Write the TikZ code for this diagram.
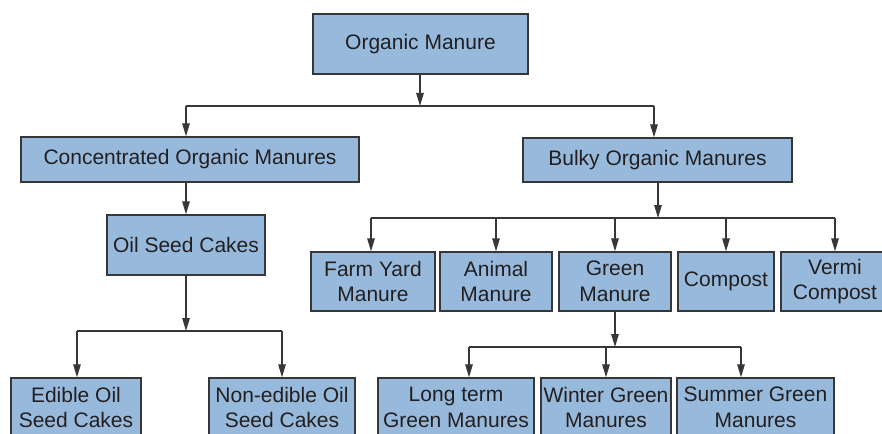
\documentclass[tikz,border=0pt]{standalone}
\usepackage{fontspec}
\setmainfont{Liberation Sans}
\usetikzlibrary{arrows.meta}
\definecolor{boxfill}{RGB}{151,186,220}
\definecolor{boxline}{RGB}{55,55,58}
\definecolor{txt}{RGB}{35,31,32}
\tikzset{
  box/.style={draw=boxline, fill=boxfill, line width=1.4pt, inner sep=0pt,
    align=center, text=txt, font=\fontsize{21}{25.5}\selectfont},
  conn/.style={draw=boxline, line width=1.3pt},
  arr/.style={conn, -{Triangle[length=13pt,width=7.5pt]}}
}
\begin{document}
\begin{tikzpicture}[x=1pt,y=-1pt]
\useasboundingbox (0,0) rectangle (882,433);
\clip (0,0) rectangle (882,433);
% nodes
\node[box, minimum width=215pt, minimum height=60pt] (om) at (420.5,44) {Organic Manure};
\node[box, minimum width=338pt, minimum height=45pt] (com) at (190,159.5) {Concentrated Organic Manures};
\node[box, minimum width=269pt, minimum height=44pt] (bom) at (657.5,160) {Bulky Organic Manures};
\node[box, minimum width=158pt, minimum height=60pt] (osc) at (186,245) {Oil Seed Cakes};
\node[box, minimum width=124pt, minimum height=59pt] (fym) at (373,281.5) {Farm Yard\\Manure};
\node[box, minimum width=112pt, minimum height=59pt] (am) at (496,281.5) {Animal\\Manure};
\node[box, minimum width=112pt, minimum height=59pt] (gm) at (615,281.5) {Green\\Manure};
\node[box, minimum width=96pt, minimum height=59pt] (cp) at (726,281.5) {Compost};
\node[box, minimum width=108pt, minimum height=59pt] (vc) at (835,281.5) {Vermi\\Compost};
\node[box, minimum width=130pt, minimum height=59pt] (eo) at (76,407.5) {Edible Oil\\Seed Cakes};
\node[box, minimum width=146pt, minimum height=59pt] (ne) at (282,407.5) {Non-edible Oil\\Seed Cakes};
\node[box, minimum width=156pt, minimum height=59pt] (lt) at (456,407.5) {Long term\\Green Manures};
\node[box, minimum width=130pt, minimum height=59pt] (wg) at (606,407.5) {Winter Green\\Manures};
\node[box, minimum width=157pt, minimum height=59pt] (sg) at (755.5,407.5) {Summer Green\\Manures};
% bus coordinates
\coordinate (b1) at (420,106);
\coordinate (b1l) at (186,106);
\coordinate (b1r) at (654,106);
\coordinate (b2) at (658,218);
\coordinate (b2l) at (371,218);
\coordinate (b2r) at (835,218);
\coordinate (b3) at (186,331);
\coordinate (b3l) at (77,331);
\coordinate (b3r) at (282,331);
\coordinate (b4) at (615,347);
\coordinate (b4l) at (469,347);
\coordinate (b4r) at (741,347);
% level 1
\draw[arr] (om.south -| b1) -- (b1);
\draw[conn] (b1l) -- (b1r);
\draw[arr] (b1l) -- (com.north -| b1l);
\draw[arr] (b1r) -- (bom.north -| b1r);
% concentrated -> oil seed
\draw[arr] (com.south -| osc.north) -- (osc.north);
% bulky
\draw[arr] (bom.south -| b2) -- (b2);
\draw[conn] (b2l) -- (b2r);
\draw[arr] (b2l) -- (fym.north -| b2l);
\draw[arr] (b2 -| am.north) -- (am.north);
\draw[arr] (b2 -| gm.north) -- (gm.north);
\draw[arr] (b2 -| cp.north) -- (cp.north);
\draw[arr] (b2r) -- (vc.north -| b2r);
% oil seed
\draw[arr] (osc.south -| b3) -- (b3);
\draw[conn] (b3l) -- (b3r);
\draw[arr] (b3l) -- (eo.north -| b3l);
\draw[arr] (b3r) -- (ne.north -| b3r);
% green manure
\draw[arr] (gm.south -| b4) -- (b4);
\draw[conn] (b4l) -- (b4r);
\draw[arr] (b4l) -- (lt.north -| b4l);
\draw[arr] (b4 -| wg.north) -- (wg.north);
\draw[arr] (b4r) -- (sg.north -| b4r);
\end{tikzpicture}
\end{document}
